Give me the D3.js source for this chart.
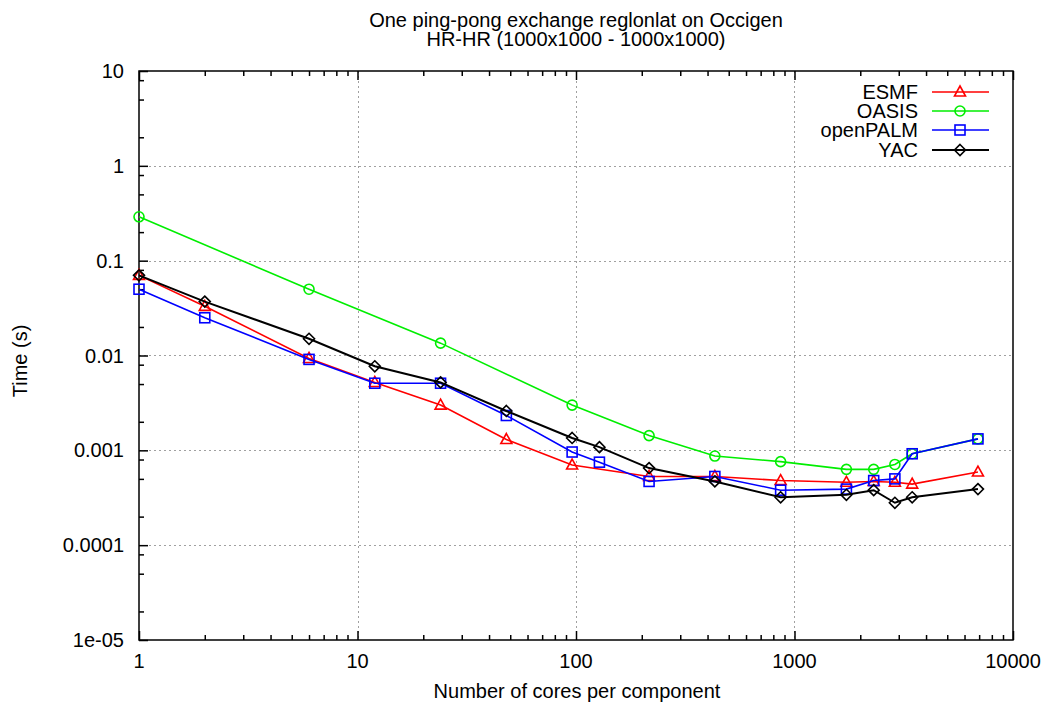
<!DOCTYPE html>
<html><head><meta charset="utf-8">
<script src="https://cdn.jsdelivr.net/npm/d3@7"></script>
<style>body{margin:0;background:#fff}svg{display:block}text{font-family:"Liberation Sans",Arial,sans-serif;font-size:20px;fill:#000}</style>
</head><body>
<script>
const titleLines = ["One ping-pong exchange reglonlat on Occigen", "HR-HR (1000x1000 - 1000x1000)"];
const xLabel = "Number of cores per component";
const yLabel = "Time (s)";
const xTickValues = [1, 10, 100, 1000, 10000];
const xTickLabels = ["1", "10", "100", "1000", "10000"];
const yTickValues = [1e-5, 1e-4, 1e-3, 1e-2, 1e-1, 1, 10];
const yTickLabels = ["1e-05", "0.0001", "0.001", "0.01", "0.1", "1", "10"];

const esmfX = [1, 2, 6, 12, 24, 48, 96, 216, 432, 864, 1728, 2304, 2880, 3456, 6912];
const esmfY = [0.07, 0.033, 0.0093, 0.0052, 0.003, 0.0013, 0.0007, 0.00053, 0.00053, 0.00048, 0.00046, 0.00047, 0.00046, 0.00044, 0.00059];
const oasisX = [1, 6, 24, 96, 216, 432, 864, 1728, 2304, 2880, 3456, 6912];
const oasisY = [0.29, 0.05, 0.0135, 0.003, 0.00143, 0.00087, 0.00076, 0.00063, 0.00063, 0.00071, 0.00092, 0.00132];
const palmX = [1, 2, 6, 12, 24, 48, 96, 128, 216, 432, 864, 1728, 2304, 2880, 3456, 6912];
const palmY = [0.05, 0.025, 0.0091, 0.0051, 0.0051, 0.00233, 0.00096, 0.00075, 0.00047, 0.00053, 0.00038, 0.00039, 0.00048, 0.0005, 0.00092, 0.00132];
const yacX = [1, 2, 6, 12, 24, 48, 96, 128, 216, 432, 864, 1728, 2304, 2880, 3456, 6912];
const yacY = [0.07, 0.037, 0.015, 0.0077, 0.0052, 0.0026, 0.00135, 0.00108, 0.00065, 0.00047, 0.00032, 0.00034, 0.00038, 0.00028, 0.00032, 0.00039];

const seriesNames = ["ESMF", "OASIS", "openPALM", "YAC"];
const seriesColors = ["#ff0000", "#00ee00", "#0000ff", "#000000"];
const seriesShapes = ["triangle", "circle", "square", "diamond"];
const seriesData = [[esmfX, esmfY], [oasisX, oasisY], [palmX, palmY], [yacX, yacY]];

const W = 1048, H = 704;
const L = 139, R = 1013, T = 71, B = 640;

const svg = d3.select("body").append("svg").attr("width", W).attr("height", H);
const x = d3.scaleLog().domain([1, 10000]).range([L, R]);
const y = d3.scaleLog().domain([1e-5, 10]).range([B, T]);

// grid
const grid = svg.append("g").attr("stroke", "#a0a0a0").attr("stroke-width", 1).attr("stroke-dasharray", "2,3");
xTickValues.slice(1, -1).forEach(v => grid.append("line").attr("x1", Math.round(x(v)) + 0.5).attr("x2", Math.round(x(v)) + 0.5).attr("y1", T).attr("y2", B));
yTickValues.slice(1, -1).forEach(v => grid.append("line").attr("y1", Math.round(y(v)) + 0.5).attr("y2", Math.round(y(v)) + 0.5).attr("x1", L).attr("x2", R));

// axes via d3 axis generators (ticks drawn inward)
const xMinor = [];
for (let d = 1; d < 10000; d *= 10) for (let k = 2; k <= 9; k++) xMinor.push(d * k);
const yMinor = [];
for (let d = 1e-5; d < 10; d *= 10) for (const k of [2, 5, 8]) yMinor.push(d * k);

function styleAxis(g) {
  g.select(".domain").remove();
  g.selectAll("line").attr("stroke", "#000").attr("stroke-width", 1.5);
}
svg.append("g").attr("transform", `translate(0,${B})`).call(d3.axisTop(x).tickValues(xTickValues).tickSize(9).tickFormat("")).call(styleAxis);
svg.append("g").attr("transform", `translate(0,${B})`).call(d3.axisTop(x).tickValues(xMinor).tickSize(5).tickFormat("")).call(styleAxis);
svg.append("g").attr("transform", `translate(0,${T})`).call(d3.axisBottom(x).tickValues(xTickValues).tickSize(9).tickFormat("")).call(styleAxis);
svg.append("g").attr("transform", `translate(0,${T})`).call(d3.axisBottom(x).tickValues(xMinor).tickSize(5).tickFormat("")).call(styleAxis);
svg.append("g").attr("transform", `translate(${L},0)`).call(d3.axisRight(y).tickValues(yTickValues).tickSize(9).tickFormat("")).call(styleAxis);
svg.append("g").attr("transform", `translate(${L},0)`).call(d3.axisRight(y).tickValues(yMinor).tickSize(5).tickFormat("")).call(styleAxis);

// tick labels
xTickValues.forEach((v, i) => svg.append("text").attr("x", x(v)).attr("y", 668).attr("text-anchor", "middle").text(xTickLabels[i]));
yTickValues.forEach((v, i) => svg.append("text").attr("x", 124).attr("y", y(v) + 7).attr("text-anchor", "end").text(yTickLabels[i]));

// border
svg.append("rect").attr("x", L).attr("y", T).attr("width", R - L).attr("height", B - T).attr("fill", "none").attr("stroke", "#000").attr("stroke-width", 1.5);

// titles
svg.append("text").attr("x", 576).attr("y", 27).attr("text-anchor", "middle").text(titleLines[0]);
svg.append("text").attr("x", 576).attr("y", 46).attr("text-anchor", "middle").text(titleLines[1]);
svg.append("text").attr("x", 577).attr("y", 698).attr("text-anchor", "middle").text(xLabel);
svg.append("text").attr("transform", "translate(27,361) rotate(-90)").attr("text-anchor", "middle").text(yLabel);

function marker(g, shape, cx, cy, color) {
  if (shape === "circle") g.append("circle").attr("cx", cx).attr("cy", cy).attr("r", 5);
  else if (shape === "square") g.append("rect").attr("x", cx - 5).attr("y", cy - 5).attr("width", 10).attr("height", 10);
  else if (shape === "triangle") g.append("path").attr("d", `M${cx},${cy - 6}L${cx + 5.5},${cy + 4}L${cx - 5.5},${cy + 4}Z`);
  else g.append("path").attr("d", `M${cx},${cy - 5.5}L${cx + 5.5},${cy}L${cx},${cy + 5.5}L${cx - 5.5},${cy}Z`);
}

const line = d3.line().x(d => x(d[0])).y(d => y(d[1]));
seriesData.forEach(([xs, ys], i) => {
  const pts = xs.map((v, j) => [v, ys[j]]);
  const g = svg.append("g");
  g.append("path").datum(pts).attr("d", line).attr("fill", "none").attr("stroke", seriesColors[i]).attr("stroke-width", i === 3 ? 2 : 1.6);
  const mg = g.append("g").attr("fill", "none").attr("stroke", seriesColors[i]).attr("stroke-width", 1.6);
  pts.forEach(p => marker(mg, seriesShapes[i], x(p[0]), y(p[1]), seriesColors[i]));
});

// legend
const legendRows = [92, 111, 130, 150];
seriesNames.forEach((n, i) => {
  const ly = legendRows[i];
  svg.append("text").attr("x", 918).attr("y", ly + 7).attr("text-anchor", "end").text(n);
  svg.append("line").attr("x1", 932).attr("x2", 989).attr("y1", ly).attr("y2", ly).attr("stroke", seriesColors[i]).attr("stroke-width", i === 3 ? 2 : 1.6);
  const mg = svg.append("g").attr("fill", "none").attr("stroke", seriesColors[i]).attr("stroke-width", 1.6);
  marker(mg, seriesShapes[i], 960, ly, seriesColors[i]);
});
</script>
</body></html>
